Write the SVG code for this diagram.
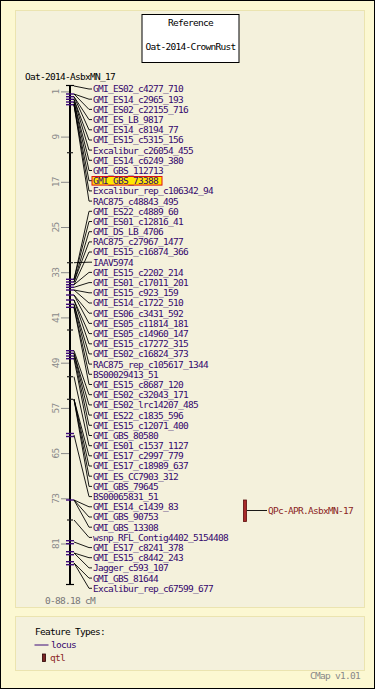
<svg xmlns="http://www.w3.org/2000/svg" width="375" height="689" viewBox="0 0 375 689">
<style>
text{font-family:"DejaVu Sans Mono","Liberation Mono",monospace;font-size:9.5px;letter-spacing:-0.72px}
.lbl{fill:#35086e}
.blk{fill:#000}
.sc{fill:#8a8a8a}
.con{fill:none;stroke:#000;stroke-width:0.9}
.ft{stroke:#3c0a78;stroke-width:1.4}
.fk{stroke:#222;stroke-width:1.2}
.st{stroke:#8a8a8a;stroke-width:1}
.q{fill:#8b1f1f}
</style>
<rect x="0.5" y="0.5" width="374" height="688" fill="#fcf8d2" stroke="#000"/>
<rect x="15.5" y="10.5" width="349" height="597" fill="#f4f1dc" stroke="#ebe4b0"/>
<rect x="15.5" y="616.5" width="349" height="54" fill="#f4f1dc" stroke="#ebe4b0"/>
<g id="title">
<rect x="142" y="14.5" width="97" height="48" fill="#fff" stroke="#000"/>
<text class="blk" x="190.5" y="26" text-anchor="middle">Reference</text>
<text class="blk" x="190.5" y="49.5" text-anchor="middle">Oat-2014-CrownRust</text>
</g>
<text class="blk" x="25" y="80">Oat-2014-AsbxMN_17</text>
<g id="axis">
<line x1="70" y1="85" x2="70" y2="585" stroke="#000" stroke-width="2"/>
<line x1="66" y1="85.5" x2="74" y2="85.5" stroke="#000" stroke-width="1.2"/>
<line x1="66" y1="584.5" x2="74" y2="584.5" stroke="#000" stroke-width="1.2"/>
<g id="scale">
<line class="st" x1="61" y1="91.9" x2="69" y2="91.9"/><text class="sc" transform="translate(58.5,91.9) rotate(-90)" text-anchor="middle">1</text>
<line class="st" x1="61" y1="137.1" x2="69" y2="137.1"/><text class="sc" transform="translate(58.5,137.1) rotate(-90)" text-anchor="middle">9</text>
<line class="st" x1="61" y1="182.3" x2="69" y2="182.3"/><text class="sc" transform="translate(58.5,182.3) rotate(-90)" text-anchor="middle">17</text>
<line class="st" x1="61" y1="227.5" x2="69" y2="227.5"/><text class="sc" transform="translate(58.5,227.5) rotate(-90)" text-anchor="middle">25</text>
<line class="st" x1="61" y1="272.7" x2="69" y2="272.7"/><text class="sc" transform="translate(58.5,272.7) rotate(-90)" text-anchor="middle">33</text>
<line class="st" x1="61" y1="317.9" x2="69" y2="317.9"/><text class="sc" transform="translate(58.5,317.9) rotate(-90)" text-anchor="middle">41</text>
<line class="st" x1="61" y1="363.2" x2="69" y2="363.2"/><text class="sc" transform="translate(58.5,363.2) rotate(-90)" text-anchor="middle">49</text>
<line class="st" x1="61" y1="408.4" x2="69" y2="408.4"/><text class="sc" transform="translate(58.5,408.4) rotate(-90)" text-anchor="middle">57</text>
<line class="st" x1="61" y1="453.6" x2="69" y2="453.6"/><text class="sc" transform="translate(58.5,453.6) rotate(-90)" text-anchor="middle">65</text>
<line class="st" x1="61" y1="498.8" x2="69" y2="498.8"/><text class="sc" transform="translate(58.5,498.8) rotate(-90)" text-anchor="middle">73</text>
<line class="st" x1="61" y1="544" x2="69" y2="544"/><text class="sc" transform="translate(58.5,544) rotate(-90)" text-anchor="middle">81</text>
</g>
<text x="45" y="604" style="fill:#777">0-88.18 cM</text>
</g>
<g id="features">
<line class="ft" x1="66" y1="94" x2="74" y2="94"/>
<line class="ft" x1="66" y1="96.7" x2="74" y2="96.7"/>
<line class="ft" x1="66" y1="99.3" x2="74" y2="99.3"/>
<line class="ft" x1="66" y1="102" x2="74" y2="102"/>
<line class="ft" x1="66" y1="104.7" x2="74" y2="104.7"/>
<line class="fk" x1="67" y1="152.7" x2="73" y2="152.7"/>
<line class="fk" x1="67" y1="262.7" x2="73" y2="262.7"/>
<line class="ft" x1="66" y1="279.3" x2="74" y2="279.3"/>
<line class="ft" x1="66" y1="282" x2="74" y2="282"/>
<line class="ft" x1="66" y1="284.7" x2="74" y2="284.7"/>
<line class="ft" x1="66" y1="287.3" x2="74" y2="287.3"/>
<line class="ft" x1="66" y1="290" x2="74" y2="290"/>
<line class="ft" x1="66" y1="295" x2="74" y2="295"/>
<line class="ft" x1="66" y1="300" x2="74" y2="300"/>
<line class="ft" x1="66" y1="304.3" x2="74" y2="304.3"/>
<line class="ft" x1="66" y1="307.3" x2="74" y2="307.3"/>
<line class="fk" x1="67" y1="330" x2="73" y2="330"/>
<line class="ft" x1="66" y1="350.7" x2="74" y2="350.7"/>
<line class="ft" x1="66" y1="353.3" x2="74" y2="353.3"/>
<line class="ft" x1="66" y1="356" x2="74" y2="356"/>
<line class="ft" x1="66" y1="358.7" x2="74" y2="358.7"/>
<line class="fk" x1="67" y1="376.7" x2="73" y2="376.7"/>
<line class="fk" x1="67" y1="399.3" x2="73" y2="399.3"/>
<line class="ft" x1="66" y1="433.5" x2="74" y2="433.5"/>
<line class="ft" x1="66" y1="436.5" x2="74" y2="436.5"/>
<line class="ft" x1="66" y1="500" x2="74" y2="500"/>
<line class="fk" x1="67" y1="520" x2="73" y2="520"/>
<line class="ft" x1="66" y1="540.7" x2="74" y2="540.7"/>
<line class="ft" x1="66" y1="543.7" x2="74" y2="543.7"/>
<line class="ft" x1="66" y1="551.7" x2="74" y2="551.7"/>
<line class="ft" x1="66" y1="554.7" x2="74" y2="554.7"/>
<line class="ft" x1="66" y1="561.7" x2="74" y2="561.7"/>
<line class="ft" x1="66" y1="564.7" x2="74" y2="564.7"/>
</g>
<g id="connectors">
<path class="con" d="M74,86 L89,89 L92,89"/>
<path class="con" d="M74,94 L89,99.2 L92,99.2"/>
<path class="con" d="M74,94 L89,109.4 L92,109.4"/>
<path class="con" d="M74,96.7 L89,119.6 L92,119.6"/>
<path class="con" d="M74,96.7 L89,129.8 L92,129.8"/>
<path class="con" d="M74,99.3 L89,140 L92,140"/>
<path class="con" d="M74,99.3 L89,150.1 L92,150.1"/>
<path class="con" d="M74,102 L89,160.3 L92,160.3"/>
<path class="con" d="M74,102 L89,170.5 L92,170.5"/>
<path class="con" d="M74,104.7 L89,180.7 L92,180.7"/>
<path class="con" d="M74,104.7 L89,190.9 L92,190.9"/>
<path class="con" d="M74,104.7 L89,201.1 L92,201.1"/>
<path class="con" d="M74,279.3 L89,211.3 L92,211.3"/>
<path class="con" d="M74,279.3 L89,221.5 L92,221.5"/>
<path class="con" d="M74,282 L89,231.7 L92,231.7"/>
<path class="con" d="M74,282 L89,241.9 L92,241.9"/>
<path class="con" d="M74,284.7 L89,252 L92,252"/>
<path class="con" d="M74,262.7 L89,262.2 L92,262.2"/>
<path class="con" d="M74,284.7 L89,272.4 L92,272.4"/>
<path class="con" d="M74,287.3 L89,282.6 L92,282.6"/>
<path class="con" d="M74,290 L89,292.8 L92,292.8"/>
<path class="con" d="M74,290 L89,303 L92,303"/>
<path class="con" d="M74,295 L89,313.2 L92,313.2"/>
<path class="con" d="M74,295 L89,323.4 L92,323.4"/>
<path class="con" d="M74,300 L89,333.6 L92,333.6"/>
<path class="con" d="M74,300 L89,343.8 L92,343.8"/>
<path class="con" d="M74,304.3 L89,353.9 L92,353.9"/>
<path class="con" d="M74,304.3 L89,364.1 L92,364.1"/>
<path class="con" d="M74,307.3 L89,374.3 L92,374.3"/>
<path class="con" d="M74,307.3 L89,384.5 L92,384.5"/>
<path class="con" d="M74,350.7 L89,394.7 L92,394.7"/>
<path class="con" d="M74,353.3 L89,404.9 L92,404.9"/>
<path class="con" d="M74,353.3 L89,415.1 L92,415.1"/>
<path class="con" d="M74,356 L89,425.3 L92,425.3"/>
<path class="con" d="M74,358.7 L89,435.5 L92,435.5"/>
<path class="con" d="M74,376.7 L89,445.7 L92,445.7"/>
<path class="con" d="M74,399.3 L89,455.8 L92,455.8"/>
<path class="con" d="M74,399.3 L89,466 L92,466"/>
<path class="con" d="M74,399.3 L89,476.2 L92,476.2"/>
<path class="con" d="M74,399.3 L89,486.4 L92,486.4"/>
<path class="con" d="M74,435 L89,496.6 L92,496.6"/>
<path class="con" d="M74,500 L89,506.8 L92,506.8"/>
<path class="con" d="M74,500 L89,517 L92,517"/>
<path class="con" d="M74,500 L89,527.2 L92,527.2"/>
<path class="con" d="M74,520 L89,537.4 L92,537.4"/>
<path class="con" d="M74,542 L89,547.6 L92,547.6"/>
<path class="con" d="M74,553 L89,557.7 L92,557.7"/>
<path class="con" d="M74,553 L89,567.9 L92,567.9"/>
<path class="con" d="M74,563 L89,578.1 L92,578.1"/>
<path class="con" d="M74,563 L89,588.3 L92,588.3"/>
<path class="con" d="M247,510.5 L267,510.5"/>
</g>
<g id="labels">
<g id="n1"><text class="lbl" x="93" y="92.4">GMI_ES02_c4277_710</text></g>
<g id="n2"><text class="lbl" x="93" y="102.6">GMI_ES14_c2965_193</text></g>
<g id="n3"><text class="lbl" x="93" y="112.8">GMI_ES02_c22155_716</text></g>
<g id="n4"><text class="lbl" x="93" y="123">GMI_ES_LB_9817</text></g>
<g id="n5"><text class="lbl" x="93" y="133.2">GMI_ES14_c8194_77</text></g>
<g id="n6"><text class="lbl" x="93" y="143.4">GMI_ES15_c5315_156</text></g>
<g id="n7"><text class="lbl" x="93" y="153.5">Excalibur_c26054_455</text></g>
<g id="n8"><text class="lbl" x="93" y="163.7">GMI_ES14_c6249_380</text></g>
<g id="n9"><text class="lbl" x="93" y="173.9">GMI_GBS_112713</text></g>
<g id="n10"><rect x="92" y="176.5" width="70" height="8.6" fill="#ffe800" stroke="#e01010" stroke-width="1"/><text class="lbl" x="93" y="184.1">GMI_GBS_73388</text></g>
<g id="n11"><text class="lbl" x="93" y="194.3">Excalibur_rep_c106342_94</text></g>
<g id="n12"><text class="lbl" x="93" y="204.5">RAC875_c48843_495</text></g>
<g id="n13"><text class="lbl" x="93" y="214.7">GMI_ES22_c4889_60</text></g>
<g id="n14"><text class="lbl" x="93" y="224.9">GMI_ES01_c12816_41</text></g>
<g id="n15"><text class="lbl" x="93" y="235.1">GMI_DS_LB_4706</text></g>
<g id="n16"><text class="lbl" x="93" y="245.3">RAC875_c27967_1477</text></g>
<g id="n17"><text class="lbl" x="93" y="255.4">GMI_ES15_c16874_366</text></g>
<g id="n18"><text class="lbl" x="93" y="265.6">IAAV5974</text></g>
<g id="n19"><text class="lbl" x="93" y="275.8">GMI_ES15_c2202_214</text></g>
<g id="n20"><text class="lbl" x="93" y="286">GMI_ES01_c17011_201</text></g>
<g id="n21"><text class="lbl" x="93" y="296.2">GMI_ES15_c923_159</text></g>
<g id="n22"><text class="lbl" x="93" y="306.4">GMI_ES14_c1722_510</text></g>
<g id="n23"><text class="lbl" x="93" y="316.6">GMI_ES06_c3431_592</text></g>
<g id="n24"><text class="lbl" x="93" y="326.8">GMI_ES05_c11814_181</text></g>
<g id="n25"><text class="lbl" x="93" y="337">GMI_ES05_c14960_147</text></g>
<g id="n26"><text class="lbl" x="93" y="347.2">GMI_ES15_c17272_315</text></g>
<g id="n27"><text class="lbl" x="93" y="357.3">GMI_ES02_c16824_373</text></g>
<g id="n28"><text class="lbl" x="93" y="367.5">RAC875_rep_c105617_1344</text></g>
<g id="n29"><text class="lbl" x="93" y="377.7">BS00029413_51</text></g>
<g id="n30"><text class="lbl" x="93" y="387.9">GMI_ES15_c8687_120</text></g>
<g id="n31"><text class="lbl" x="93" y="398.1">GMI_ES02_c32043_171</text></g>
<g id="n32"><text class="lbl" x="93" y="408.3">GMI_ES02_lrc14207_485</text></g>
<g id="n33"><text class="lbl" x="93" y="418.5">GMI_ES22_c1835_596</text></g>
<g id="n34"><text class="lbl" x="93" y="428.7">GMI_ES15_c12071_400</text></g>
<g id="n35"><text class="lbl" x="93" y="438.9">GMI_GBS_80580</text></g>
<g id="n36"><text class="lbl" x="93" y="449.1">GMI_ES01_c1537_1127</text></g>
<g id="n37"><text class="lbl" x="93" y="459.2">GMI_ES17_c2997_779</text></g>
<g id="n38"><text class="lbl" x="93" y="469.4">GMI_ES17_c18989_637</text></g>
<g id="n39"><text class="lbl" x="93" y="479.6">GMI_ES_CC7903_312</text></g>
<g id="n40"><text class="lbl" x="93" y="489.8">GMI_GBS_79645</text></g>
<g id="n41"><text class="lbl" x="93" y="500">BS00065831_51</text></g>
<g id="n42"><text class="lbl" x="93" y="510.2">GMI_ES14_c1439_83</text></g>
<g id="n43"><text class="lbl" x="93" y="520.4">GMI_GBS_90753</text></g>
<g id="n44"><text class="lbl" x="93" y="530.6">GMI_GBS_13308</text></g>
<g id="n45"><text class="lbl" x="93" y="540.8">wsnp_RFL_Contig4402_5154408</text></g>
<g id="n46"><text class="lbl" x="93" y="551">GMI_ES17_c8241_378</text></g>
<g id="n47"><text class="lbl" x="93" y="561.1">GMI_ES15_c8442_243</text></g>
<g id="n48"><text class="lbl" x="93" y="571.3">Jagger_c593_107</text></g>
<g id="n49"><text class="lbl" x="93" y="581.5">GMI_GBS_81644</text></g>
<g id="n50"><text class="lbl" x="93" y="591.7">Excalibur_rep_c67599_677</text></g>
</g>
<g id="qtl">
<rect x="243.5" y="500" width="3" height="21.5" fill="#a82a2a" stroke="#5a0a0a" stroke-width="0.8"/>
<text class="q" x="268" y="513.9">QPc-APR.AsbxMN-17</text>
</g>
<g id="legend">
<text class="blk" x="35" y="635">Feature Types:</text>
<line x1="34.5" y1="645" x2="48.5" y2="645" stroke="#3c0a78" stroke-width="1"/>
<text class="lbl" x="51" y="648.4">locus</text>
<rect x="42.5" y="654" width="3" height="7.5" fill="#7a2525" stroke="#2a0000" stroke-width="0.8"/>
<text class="q" x="50" y="661.1">qtl</text>
</g>
<text x="310" y="678.5" style="fill:#888">CMap v1.01</text>
</svg>
